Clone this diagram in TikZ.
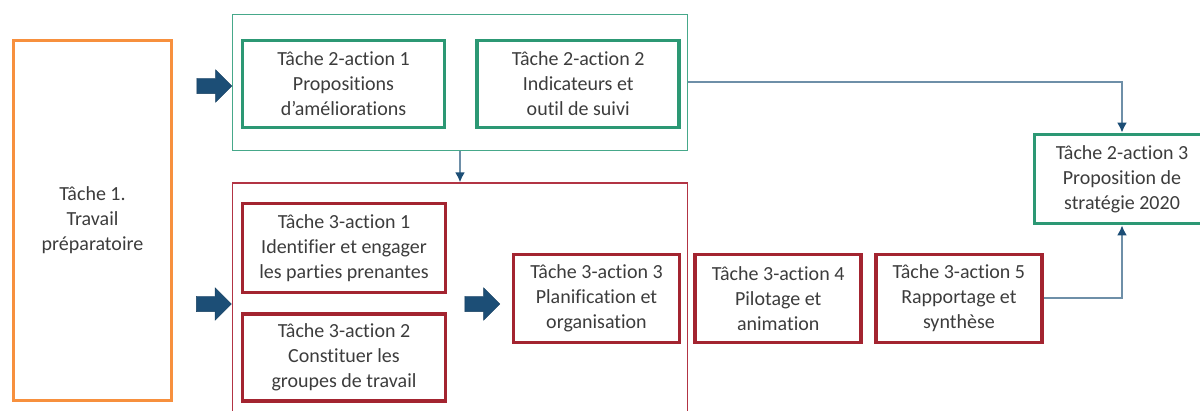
\documentclass[tikz,border=0pt]{standalone}
\usepackage{fontspec}
\setmainfont{Carlito}[Ligatures=NoCommon]
\usepackage{tikz}
\usetikzlibrary{shapes.arrows, arrows.meta, positioning}
\usepackage{xcolor}
\definecolor{taskorange}{RGB}{247,144,62}
\definecolor{taskgreen}{RGB}{44,152,116}
\definecolor{framegreen}{RGB}{70,168,138}
\definecolor{taskred}{RGB}{163,36,48}
\definecolor{framered}{RGB}{178,52,68}
\definecolor{linkblue}{RGB}{110,143,168}
\definecolor{tipblue}{RGB}{28,78,118}
\definecolor{textgray}{RGB}{60,60,60}
\tikzstyle{prep} = [rectangle, minimum width=158pt, minimum height=360pt, align=center, draw=taskorange, line width=3pt, text=textgray]
\tikzstyle{greentask} = [rectangle, minimum width=202pt, minimum height=87pt, align=center, draw=taskgreen, line width=3.7pt, text=textgray]
\tikzstyle{redtask} = [rectangle, minimum width=166pt, minimum height=88pt, align=center, draw=taskred, line width=3.7pt, text=textgray]
\tikzstyle{greenframe} = [rectangle, minimum width=455pt, minimum height=136pt, draw=framegreen, line width=1.2pt]
\tikzstyle{redframe} = [rectangle, minimum width=455pt, minimum height=237pt, draw=framered, line width=1.2pt]
\tikzstyle{bigarrow} = [single arrow, draw=tipblue!80!black, fill=tipblue, inner sep=0pt, text height=15pt, text depth=0pt, single arrow head extend=8.5pt, minimum height=35pt]
\tikzstyle{arrow} = [line width=2pt, draw=linkblue, -{Latex[color=tipblue, length=10pt, width=10pt]}]

\begin{document}
\begin{tikzpicture}[x=1pt, y=-1pt, font=\fontsize{20}{25}\selectfont]
\useasboundingbox (0,0) rectangle (1200,411);

\node (t1) [prep] at (92.5,220.5) {T\^ache 1.\\Travail\\pr\'eparatoire};

% Tache 2
\node (frame2) [greenframe] at (460,82.5) {};
\node (t2a1) [greentask] at (343.5,84) {T\^ache 2-action 1\\Propositions\\d’am\'eliorations};
\node (t2a2) [greentask, right=29pt of t2a1] {T\^ache 2-action 2\\Indicateurs et\\outil de suivi};
\node (t2a3) [greentask, minimum width=175pt, minimum height=89pt] at (1122,179) {T\^ache 2-action 3\\Proposition de\\strat\'egie 2020};

% Tache 3
\node (frame3) [redframe] at (460,301.5) {};
\node (t3a1) [redtask, minimum width=203pt, minimum height=89pt] at (344,248) {T\^ache 3-action 1\\Identifier et engager\\les parties prenantes};
\node (t3a2) [redtask, minimum width=203pt, minimum height=87pt, below=18pt of t3a1] {T\^ache 3-action 2\\Constituer les\\groupes de travail};
\node (t3a3) [redtask] at (596.5,298.5) {T\^ache 3-action 3\\Planification et\\organisation};
\node (t3a4) [redtask, right=12pt of t3a3] {T\^ache 3-action 4\\Pilotage et\\animation};
\node (t3a5) [redtask, right=11pt of t3a4] {T\^ache 3-action 5\\Rapportage et\\synth\`ese};

% Block arrows
\node (b1) [bigarrow] at (210.5,86) {};
\node (b2) [bigarrow] at (210,304) {};
\node (b3) [bigarrow] at (478.5,304) {};

% Arrows
\draw [arrow] (frame2.east) -| (t2a3.north);
\draw [arrow] (frame2.south) -- (frame3.north);
\draw [arrow] (t3a5.east) -| (t2a3.south);

\end{tikzpicture}
\end{document}
